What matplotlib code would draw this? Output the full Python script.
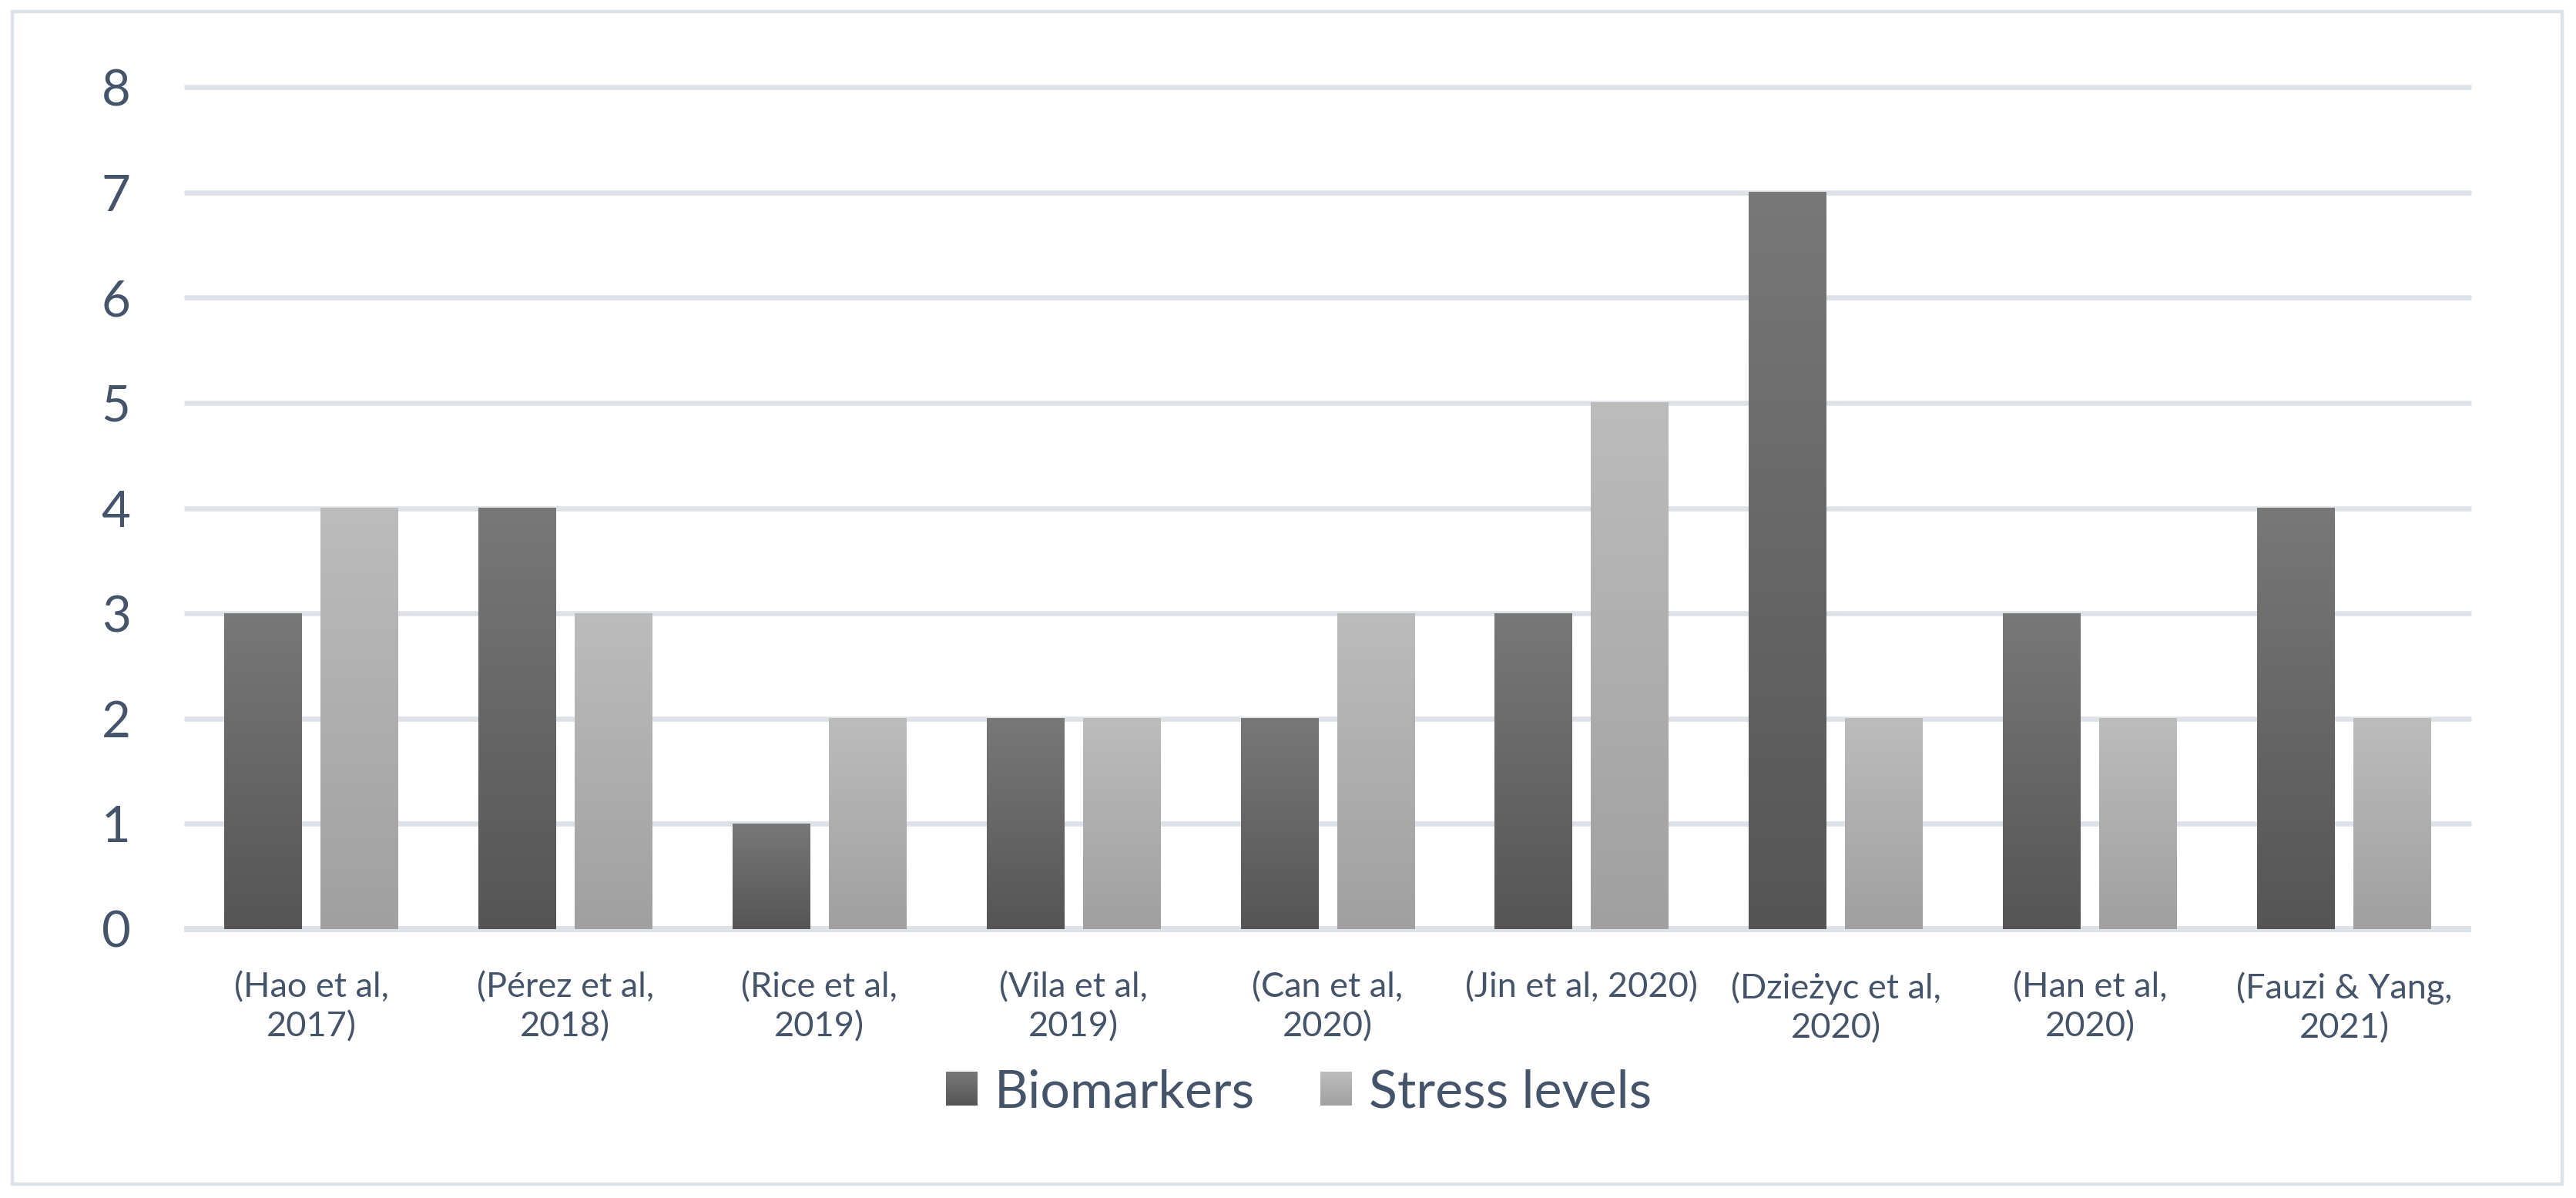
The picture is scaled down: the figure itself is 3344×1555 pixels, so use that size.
import numpy as np
import matplotlib
matplotlib.use("Agg")
import matplotlib.pyplot as plt
from matplotlib.colors import LinearSegmentedColormap
from matplotlib.patches import Rectangle, Patch
from matplotlib.legend_handler import HandlerBase

# ---- data ----
categories = ["(Hao et al,\n2017)", "(Pérez et al,\n2018)", "(Rice et al,\n2019)",
              "(Vila et al,\n2019)", "(Can et al,\n2020)", "(Jin et al, 2020)",
              "(Dzieżyc et al,\n2020)", "(Han et al,\n2020)", "(Fauzi & Yang,\n2021)"]
biomarkers = [3, 4, 1, 2, 2, 3, 7, 3, 4]
stress_levels = [4, 3, 2, 2, 3, 5, 2, 2, 2]
series_names = ["Biomarkers", "Stress levels"]
yticks = [0, 1, 2, 3, 4, 5, 6, 7, 8]

TEXT = "#44546a"
GRID = "#dde1e8"
FONT = ["Lato", "DejaVu Sans"]
plt.rcParams["font.family"] = FONT

W, H = 3344, 1555
fig = plt.figure(figsize=(W / 100, H / 100), dpi=100)
fig.patch.set_facecolor("white")

# outer border
fig.add_artist(Rectangle((16 / W, 1 - 1537 / H), (3326 - 16) / W, (1537 - 15) / H,
                         transform=fig.transFigure, fill=False, edgecolor=GRID,
                         linewidth=3.2))

left, right, top, bottom = 239, 3208, 113, 1206
ax = fig.add_axes([left / W, 1 - bottom / H, (right - left) / W, (bottom - top) / H])
ax.set_facecolor("none")
for s in ax.spines.values():
    s.set_visible(False)

n = len(categories)
x = np.arange(n)
bw = 0.306
gap = 0.073
off = (bw + gap) / 2

dark_cmap = LinearSegmentedColormap.from_list("d", ["#555555", "#787878"])
light_cmap = LinearSegmentedColormap.from_list("l", ["#a0a0a0", "#bcbcbc"])
grad = np.linspace(0, 1, 256).reshape(-1, 1)

bars1 = ax.bar(x - off, biomarkers, bw, color="#666666", zorder=2, linewidth=0)
bars2 = ax.bar(x + off, stress_levels, bw, color="#aeaeae", zorder=2, linewidth=0)
for bars, cmap in ((bars1, dark_cmap), (bars2, light_cmap)):
    for b in bars:
        x0, w, h = b.get_x(), b.get_width(), b.get_height()
        ax.imshow(grad, extent=[x0, x0 + w, 0, h], origin="lower", aspect="auto",
                  cmap=cmap, zorder=3, interpolation="bilinear")

ax.set_xlim(-0.5, n - 0.5)
ax.set_ylim(0, 8)

# gridlines
ax.hlines(yticks[1:], -0.5, n - 0.5, colors=GRID, linewidth=4.7, zorder=1, clip_on=False)
ax.hlines([0], -0.5, n - 0.5, colors=GRID, linewidth=5.8, zorder=1, clip_on=False)

ax.set_yticks(yticks)
ax.set_yticklabels([str(t) for t in yticks])
ax.tick_params(axis="y", length=0, pad=50, labelsize=47, labelcolor=TEXT)
ax.set_xticks(x)
ax.set_xticklabels(categories, linespacing=1.3)
ax.tick_params(axis="x", length=0, pad=40, labelsize=32.5, labelcolor=TEXT)
for lab in ax.get_xticklabels():
    lab.set_verticalalignment("top")


class GradientHandler(HandlerBase):
    def __init__(self, cmap, steps=24):
        super().__init__()
        self.cmap = cmap
        self.steps = steps

    def create_artists(self, legend, orig_handle, xdescent, ydescent, width, height,
                       fontsize, trans):
        arts = []
        sh = height / self.steps
        for i in range(self.steps):
            c = self.cmap((i + 0.5) / self.steps)
            r = Rectangle((-xdescent, -ydescent + i * sh), width, sh * 1.05,
                          facecolor=c, edgecolor="none", transform=trans)
            arts.append(r)
        return arts


h1 = Patch(facecolor="#666666", edgecolor="none")
h2 = Patch(facecolor="#aeaeae", edgecolor="none")
fig.legend([h1, h2], series_names, loc="center", bbox_to_anchor=(1686 / W, 1 - 1418 / H),
           ncol=2, frameon=False, fontsize=49, labelcolor=TEXT,
           handlelength=0.6, handleheight=0.6, handletextpad=0.32,
           columnspacing=1.25, borderpad=0,
           handler_map={h1: GradientHandler(dark_cmap), h2: GradientHandler(light_cmap)})

fig.savefig("out.png", dpi=100, facecolor="white")
